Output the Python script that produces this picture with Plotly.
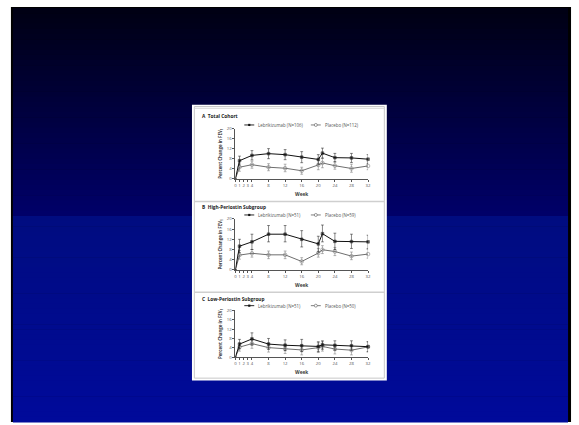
import plotly.graph_objects as go

W, H = 579, 425

# ---------------- data ----------------
weeks = [0, 1, 4, 8, 12, 16, 20, 21, 24, 28, 32]
x_tick_vals = [0, 1, 2, 3, 4, 8, 12, 16, 20, 24, 28, 32]
y_tick_vals = [0, 4, 8, 12, 16, 20]

panel_titles = ["A  Total Cohort", "B  High-Periostin Subgroup", "C  Low-Periostin Subgroup"]
leb_names = ["Lebrikizumab (N=106)", "Lebrikizumab (N=51)", "Lebrikizumab (N=51)"]
pla_names = ["Placebo (N=112)", "Placebo (N=59)", "Placebo (N=50)"]

leb_total = [0, 7.2, 9.3, 10.0, 9.6, 8.6, 7.7, 10.2, 8.4, 8.3, 7.8]
leb_total_lo = [0, 5.5, 7.5, 8.0, 7.6, 6.4, 5.8, 8.2, 6.7, 6.5, 6.0]
leb_total_hi = [0, 9.0, 11.2, 12.0, 11.6, 10.8, 9.6, 12.2, 10.1, 10.1, 9.6]
pla_total = [0, 4.6, 5.6, 4.6, 4.2, 3.2, 5.5, 6.3, 5.2, 4.1, 5.1]
pla_total_lo = [0, 3.0, 4.2, 3.2, 2.8, 1.8, 3.6, 4.4, 3.8, 2.6, 3.6]
pla_total_hi = [0, 6.2, 7.0, 6.0, 5.8, 4.6, 7.4, 8.2, 6.8, 5.8, 6.8]

leb_high = [0, 9.3, 11.0, 14.0, 14.0, 12.0, 10.2, 14.2, 11.2, 11.1, 11.0]
leb_high_lo = [0, 6.8, 8.0, 11.0, 11.0, 9.0, 7.0, 11.0, 8.0, 8.4, 8.4]
leb_high_hi = [0, 12.0, 14.0, 17.4, 17.4, 15.4, 13.2, 17.6, 14.4, 14.0, 13.6]
pla_high = [0, 5.8, 6.5, 5.9, 5.9, 3.3, 6.6, 7.9, 7.2, 5.4, 6.2]
pla_high_lo = [0, 4.2, 5.0, 4.4, 4.4, 2.0, 5.0, 6.4, 5.6, 4.0, 4.6]
pla_high_hi = [0, 7.6, 8.0, 7.4, 7.4, 4.8, 8.4, 9.5, 8.8, 7.0, 8.0]

leb_low = [0, 5.6, 7.8, 5.6, 5.1, 4.9, 4.6, 5.3, 5.0, 4.9, 4.5]
leb_low_lo = [0, 3.6, 5.2, 3.4, 2.8, 2.4, 2.4, 3.4, 3.0, 3.0, 2.4]
leb_low_hi = [0, 7.6, 10.4, 8.0, 7.4, 7.6, 6.6, 7.0, 7.0, 7.0, 6.6]
pla_low = [0, 4.3, 5.8, 4.1, 3.6, 3.1, 4.1, 4.6, 3.5, 3.0, 4.4]
pla_low_lo = [0, 2.6, 3.8, 2.2, 1.6, 1.0, 2.0, 2.6, 1.4, 1.0, 2.2]
pla_low_hi = [0, 6.0, 7.8, 6.0, 5.6, 5.2, 6.2, 6.6, 5.6, 5.0, 6.6]

leb_series = [(leb_total, leb_total_lo, leb_total_hi),
              (leb_high, leb_high_lo, leb_high_hi),
              (leb_low, leb_low_lo, leb_low_hi)]
pla_series = [(pla_total, pla_total_lo, pla_total_hi),
              (pla_high, pla_high_lo, pla_high_hi),
              (pla_low, pla_low_lo, pla_low_hi)]

# ---------------- geometry (pixels) ----------------
def px(x):
    return x / W

def py(y):
    return 1 - y / H

plot_x0, plot_x1 = 236, 369.6
# (y of value 0, y of value 20, title y, legend y)
sections = [(178.3, 127.3, 115, 123.7),
            (270.7, 219.0, 207, 215.0),
            (359.3, 311.7, 300, 307.0)]

FONT = "Open Sans"
TXT = "#3a3a3a"
AX = "#555555"

fig = go.Figure()
shapes = []
annotations = []

# ---------------- slide background ----------------
shapes.append(dict(type="rect", xref="paper", yref="paper", layer="below",
                   x0=px(10), x1=px(574), y0=py(425), y1=py(4),
                   fillcolor="#000000", line_width=0))

def band(y0, y1, c0, c1, n):
    for i in range(n):
        t = i / (n - 1)
        c = tuple(int(round(a + (b - a) * t)) for a, b in zip(c0, c1))
        ya = y0 + (y1 - y0) * i / n
        yb = y0 + (y1 - y0) * (i + 1) / n
        shapes.append(dict(type="rect", xref="paper", yref="paper", layer="below",
                           x0=px(12), x1=px(571), y0=py(yb + 0.6), y1=py(ya),
                           fillcolor="rgb(%d,%d,%d)" % c, line_width=0))

band(5, 216, (0, 0, 20), (0, 0, 104), 40)
band(216, 425, (0, 12, 128), (0, 10, 154), 40)

# white panel + inner frame
shapes.append(dict(type="rect", xref="paper", yref="paper", layer="below",
                   x0=px(192.3), x1=px(388.5), y0=py(383), y1=py(103.3),
                   fillcolor="#ffffff", line_width=0))
shapes.append(dict(type="rect", xref="paper", yref="paper", layer="below",
                   x0=px(194.7), x1=px(386), y0=py(380.5), y1=py(105),
                   fillcolor="rgba(0,0,0,0)", line=dict(color="#c8c8c8", width=1)))
shapes.append(dict(type="line", xref="paper", yref="paper", layer="below",
                   x0=px(194.7), x1=px(386), y0=py(106.8), y1=py(106.8),
                   line=dict(color="#d6d6d6", width=1)))
for ys in (201.3, 293.3):
    shapes.append(dict(type="line", xref="paper", yref="paper", layer="below",
                       x0=px(194.7), x1=px(386), y0=py(ys), y1=py(ys),
                       line=dict(color="#cfcfcf", width=1.5)))

# ---------------- the three charts ----------------
for i, (y0p, y20p, ty, ly) in enumerate(sections):
    k = "" if i == 0 else str(i + 1)
    xa, ya = "x" + k, "y" + k

    for (vals, lo, hi), color, sym, name in [
            (pla_series[i], "#6e6e6e", "circle-open", pla_names[i]),
            (leb_series[i], "#111111", "square", leb_names[i])]:
        plus = [h - v for v, h in zip(vals, hi)]
        minus = [v - l for v, l in zip(vals, lo)]
        sizes = [0] + [2.6 if sym == "square" else 3.6] * (len(weeks) - 1)
        fig.add_trace(go.Scatter(
            x=weeks, y=vals, name=name, xaxis=xa, yaxis=ya,
            mode="lines+markers", showlegend=False, cliponaxis=False,
            line=dict(color=color, width=1),
            marker=dict(symbol=sym, size=sizes, color=color,
                        line=dict(color=color, width=0.7)),
            error_y=dict(type="data", symmetric=False, array=plus, arrayminus=minus,
                         color=color, thickness=0.5, width=1.4),
        ))

    dom_y = [py(y0p), py(y20p)]
    fig.update_layout(**{
        ("xaxis" + k): dict(domain=[px(plot_x0), px(plot_x1)], range=[0, 32],
                            anchor=ya, tickmode="array", tickvals=x_tick_vals,
                            ticktext=[str(v) for v in x_tick_vals], tickangle=0,
                            ticks="outside", ticklen=2, tickwidth=0.6, tickcolor=AX,
                            showline=True, linecolor=AX, linewidth=0.8,
                            showgrid=False, zeroline=False,
                            tickfont=dict(family=FONT, size=4.3, color=AX),
                            title=dict(text="<b>Week</b>", standoff=5,
                                       font=dict(family=FONT, size=4.8, color=TXT))),
        ("yaxis" + k): dict(domain=dom_y, range=[0, 20], anchor=xa,
                            tickmode="array", tickvals=y_tick_vals,
                            ticks="outside", ticklen=2, tickwidth=0.6, tickcolor=AX,
                            showline=True, linecolor=AX, linewidth=0.8,
                            showgrid=False, zeroline=False,
                            tickfont=dict(family=FONT, size=4.3, color=AX),
                            title=dict(text="<b>Percent Change in FEV<sub>1</sub></b>",
                                       standoff=4,
                                       font=dict(family=FONT, size=4.4, color=TXT))),
    })

    # section title
    annotations.append(dict(xref="paper", yref="paper", x=px(200), y=py(ty),
                            xanchor="left", yanchor="middle", showarrow=False,
                            text="<b>%s</b>" % panel_titles[i],
                            font=dict(family=FONT, size=4.8, color="#222222")))
    # legend glyphs
    for gx0, gx1, color, marker_sq, label, tx in [
            (245, 255, "#111111", True, leb_names[i], 257),
            (312, 322, "#6e6e6e", False, pla_names[i], 324.5)]:
        shapes.append(dict(type="line", xref="paper", yref="paper",
                           x0=px(gx0), x1=px(gx1), y0=py(ly), y1=py(ly),
                           line=dict(color=color, width=0.9)))
        cx = (gx0 + gx1) / 2
        if marker_sq:
            shapes.append(dict(type="rect", xref="paper", yref="paper",
                               x0=px(cx - 1.1), x1=px(cx + 1.1),
                               y0=py(ly + 1.1), y1=py(ly - 1.1),
                               fillcolor=color, line_width=0))
        else:
            shapes.append(dict(type="circle", xref="paper", yref="paper",
                               x0=px(cx - 1.5), x1=px(cx + 1.5),
                               y0=py(ly + 1.5), y1=py(ly - 1.5),
                               fillcolor="#ffffff", line=dict(color=color, width=0.7)))
        annotations.append(dict(xref="paper", yref="paper", x=px(tx), y=py(ly),
                                xanchor="left", yanchor="middle", showarrow=False,
                                text=label,
                                font=dict(family=FONT, size=4.4, color="#555555")))

fig.update_layout(
    width=W, height=H,
    margin=dict(l=0, r=0, t=0, b=0),
    paper_bgcolor="#ffffff", plot_bgcolor="rgba(0,0,0,0)",
    showlegend=False,
    shapes=shapes, annotations=annotations,
    font=dict(family=FONT),
)

fig.write_html("out.html",
               config={"displayModeBar": False},
               post_script="document.body.style.margin='0';"
                           "document.body.style.overflow='hidden';")
